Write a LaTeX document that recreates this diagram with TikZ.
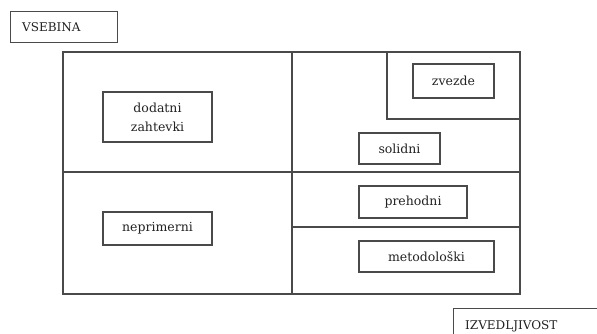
\documentclass[tikz,border=0pt]{standalone}
\usepackage{fontspec}
\setmainfont{DejaVu Serif}
\definecolor{ln}{HTML}{4A4A4A}
\definecolor{tx}{HTML}{222222}
\tikzset{
  box/.style={draw=ln, line width=1.2pt, rectangle, inner sep=0pt, text=tx,
    font=\fontsize{12.5}{19}\selectfont, align=center},
  wall/.style={draw=ln, line width=1.2pt},
  lbl/.style={text=tx, font=\fontsize{12}{14}\selectfont, inner sep=0pt}
}
\begin{document}
\begin{tikzpicture}[x=1pt,y=-1pt]
\useasboundingbox (0,0) rectangle (597,333);
% outer frame
\coordinate (tl) at (63,52);
\coordinate (br) at (520,294);
\draw[wall] (tl) rectangle (br);
\coordinate (vt) at (292,52);
\coordinate (vb) at (292,294);
\draw[wall] (vt) -- (vb);
\coordinate (hl) at (63,172);
\coordinate (hr) at (520,172);
\draw[wall] (hl) -- (hr);
\coordinate (ml) at (292,227);
\coordinate (mr) at (520,227);
\draw[wall] (ml) -- (mr);
\coordinate (zt) at (387,52);
\coordinate (zb) at (387,119);
\coordinate (zr) at (520,119);
\draw[wall] (zt) -- (zb) -- (zr);
% labels
\node[box, anchor=north west, minimum width=107pt, minimum height=31pt] (vsebina) at (10,11) {};
\node[lbl, anchor=west] (vsebinat) at ([xshift=12pt]vsebina.west) {VSEBINA};
\node[box, anchor=north west, minimum width=160pt, minimum height=40pt] (izved) at (453,308) {};
\node[lbl, anchor=west] (izvedt) at (465,326) {IZVEDLJIVOST};
\node[box, minimum width=109pt, minimum height=50pt] (dodatni) at (157.5,117) {dodatni\\zahtevki};
\node[box, minimum width=109pt, minimum height=33pt] (neprim) at (157.5,228.5) {neprimerni};
\node[box, minimum width=81pt, minimum height=34pt] (zvezde) at (453.5,81) {zvezde};
\node[box, minimum width=81pt, minimum height=31pt] (solidni) at (399.5,148.5) {solidni};
\node[box, minimum width=108pt, minimum height=32pt] (prehodni) at (413,202) {prehodni};
\node[box, minimum width=135pt, minimum height=31pt] (metod) at (426.5,256.5) {metodološki};
\end{tikzpicture}
\end{document}
